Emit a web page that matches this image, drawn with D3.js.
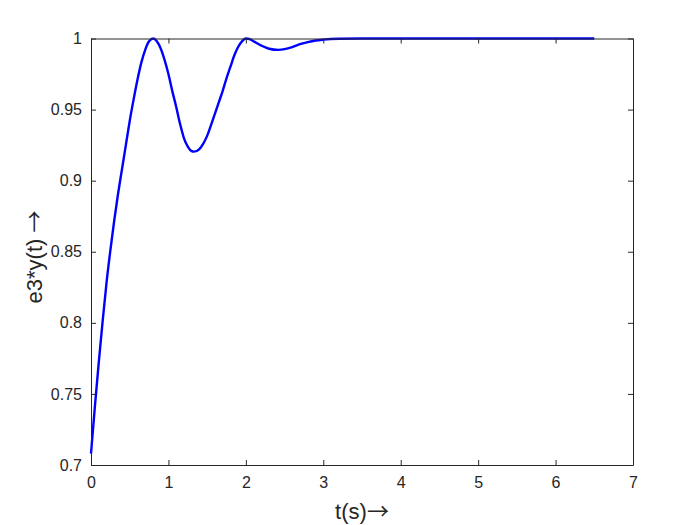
<!DOCTYPE html>
<html>
<head>
<meta charset="utf-8">
<script src="https://cdn.jsdelivr.net/npm/d3@7"></script>
<style>
  body { margin: 0; background: #fff; }
  svg { display: block; font-family: "Liberation Sans", Arial, sans-serif; }
</style>
</head>
<body>
<svg id="chart" width="700" height="525"></svg>
<script>
// values
const tValues = [0, 0.05, 0.1, 0.15, 0.2, 0.25, 0.3, 0.35, 0.4, 0.45, 0.5, 0.55, 0.6, 0.65, 0.7, 0.75, 0.805,
    0.85, 0.9, 0.95, 1.0, 1.05, 1.1, 1.15, 1.2, 1.25, 1.3, 1.33, 1.4, 1.45, 1.5, 1.55, 1.6, 1.65, 1.7, 1.75,
    1.8, 1.85, 1.9, 1.95, 2.0, 2.05, 2.1, 2.2, 2.3, 2.42, 2.5, 2.6, 2.7, 2.8, 2.9, 3.0, 3.2, 3.5, 4, 5, 6, 6.5];
const yValues = [0.708, 0.741, 0.772, 0.801, 0.828, 0.851, 0.872, 0.891, 0.908, 0.925, 0.942, 0.957, 0.971,
    0.983, 0.992, 0.998, 1.0, 0.998, 0.993, 0.985, 0.975, 0.963, 0.952, 0.94, 0.93, 0.924, 0.9208, 0.9204,
    0.9222, 0.926, 0.9315, 0.939, 0.947, 0.955, 0.963, 0.972, 0.98, 0.988, 0.994, 0.998, 1.0, 0.9995, 0.998,
    0.995, 0.9928, 0.992, 0.9925, 0.994, 0.996, 0.9975, 0.9986, 0.9992, 0.9998, 1.0, 1.0, 1.0, 1.0, 1.0];
const xTicks = [0, 1, 2, 3, 4, 5, 6, 7];
const yTicks = [0.7, 0.75, 0.8, 0.85, 0.9, 0.95, 1];

const svg = d3.select("#chart");
const margin = { left: 91, right: 67, top: 38.5, bottom: 60 };
const W = 700, H = 525;
const ink = "#262626";

const x = d3.scaleLinear().domain([0, 7]).range([margin.left, W - margin.right]);
const y = d3.scaleLinear().domain([0.7, 1]).range([H - margin.bottom, margin.top]);

const data = tValues.map((t, i) => [t, yValues[i]]);

// curve
svg.append("path")
    .datum(data)
    .attr("fill", "none")
    .attr("stroke", "#0000ff")
    .attr("stroke-width", 2.4)
    .attr("stroke-linejoin", "round")
    .attr("d", d3.line().x(d => x(d[0])).y(d => y(d[1])).curve(d3.curveMonotoneX));

// axes, ticks point inward like matlab
function styleAxis(g) {
    g.select(".domain").attr("stroke", ink);
    g.selectAll(".tick line").attr("stroke", ink);
    g.selectAll(".tick text").attr("fill", ink).style("font-size", "16px");
}

svg.append("g")
    .attr("transform", `translate(0,${y(0.7)})`)
    .call(d3.axisBottom(x).tickValues(xTicks).tickSize(-5).tickSizeOuter(0).tickPadding(12).tickFormat(d3.format("")))
    .call(styleAxis);

svg.append("g")
    .attr("transform", `translate(0,${y(1)})`)
    .call(d3.axisTop(x).tickValues(xTicks).tickSize(-5).tickSizeOuter(0).tickFormat(""))
    .call(styleAxis);

svg.append("g")
    .attr("transform", `translate(${x(0)},0)`)
    .call(d3.axisLeft(y).tickValues(yTicks).tickSize(-5).tickSizeOuter(0).tickPadding(9).tickFormat(d3.format("")))
    .call(styleAxis);

svg.append("g")
    .attr("transform", `translate(${x(7)},0)`)
    .call(d3.axisRight(y).tickValues(yTicks).tickSize(-5).tickSizeOuter(0).tickFormat(""))
    .call(styleAxis);

// labels; the thin CJK arrow is closer to matlab's \rightarrow
const arrowFont = "'Noto Sans CJK SC'";
const xl = svg.append("text")
    .attr("x", (x(0) + x(7)) / 2)
    .attr("y", 519)
    .attr("text-anchor", "middle")
    .attr("fill", ink)
    .style("font-size", "22px");
xl.append("tspan").text("t(s)");
xl.append("tspan").style("font-family", arrowFont).style("font-size", "22px").text("→");

const yl = svg.append("text")
    .attr("transform", `translate(42,257) rotate(-90)`)
    .attr("text-anchor", "middle")
    .attr("fill", ink)
    .style("font-size", "22px");
yl.append("tspan").text("e3*y(t) ");
yl.append("tspan").style("font-family", arrowFont).style("font-size", "22px").text("→");
</script>
</body>
</html>
